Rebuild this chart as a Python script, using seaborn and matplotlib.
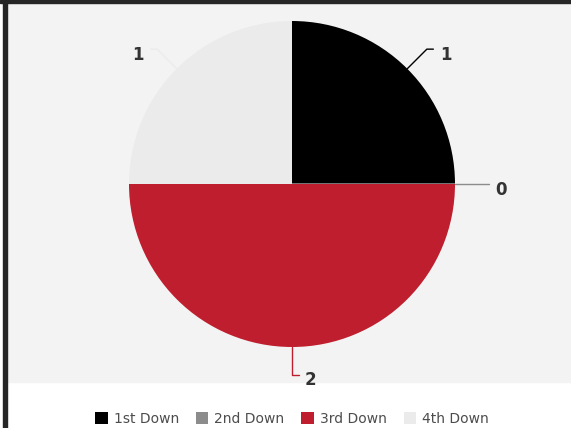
# Pie chart: plays by down

import numpy as np
import matplotlib
matplotlib.use("Agg")
import matplotlib.pyplot as plt
import seaborn as sns
from matplotlib.patches import Rectangle, Patch

# Data
categories = ['1st Down', '2nd Down', '3rd Down', '4th Down']
values = [1, 0, 2, 1]
colors = ['#000000', '#8c8c8c', '#be1e2d', '#ebebeb']

sns.set_theme(style='white')
plt.rcParams['font.family'] = ['DejaVu Sans']

W, H = 571, 428
fig = plt.figure(figsize=(W / 100, H / 100), dpi=100)
fig.patch.set_facecolor('white')

# Background panel and dark frame edges
fig.add_artist(Rectangle((7 / W, 1 - 382 / H), 1 - 7 / W, 379 / H,
                         transform=fig.transFigure, color='#f3f3f3', zorder=0))
fig.add_artist(Rectangle((3 / W, 0), 4 / W, 1, transform=fig.transFigure,
                         color='#262626', zorder=1))
fig.add_artist(Rectangle((0, 1 - 3 / H), 1, 3 / H, transform=fig.transFigure,
                         color='#262626', zorder=1))

# Pie axes (square, centred on the pie)
ax = fig.add_axes([129 / W, 1 - 347 / H, 326 / W, 326 / H])
wedges, _ = ax.pie(values, colors=colors, startangle=90, counterclock=False,
                   radius=1, wedgeprops=dict(linewidth=0))
for w, v, c in zip(wedges, values, colors):
    if v == 0:
        w.set_edgecolor(c)
        w.set_linewidth(1.2)
ax.set_xlim(-1, 1)
ax.set_ylim(-1, 1)
ax.axis('off')

# Data labels with connectors
for w, v, c in zip(wedges, values, colors):
    a = np.deg2rad((w.theta1 + w.theta2) / 2)
    x0, y0 = np.cos(a), np.sin(a)
    x1, y1 = 1.17 * x0, 1.17 * y0
    side = 1 if np.cos(a) > -0.01 else -1
    x2 = x1 + 0.04 * side
    ax.plot([x0, x1, x2], [y0, y1, y1], color=c, lw=1, clip_on=False)
    ax.text(x2 + 0.04 * side, y1 - 0.035, str(v), ha='left' if side > 0 else 'right',
            va='center', fontsize=12, fontweight='bold', color='#333333', clip_on=False)

# Legend
handles = [Patch(facecolor=c, edgecolor='none', label=l) for l, c in zip(categories, colors)]
fig.legend(handles=handles, loc='center', bbox_to_anchor=(292 / W, 1 - 419 / H), ncol=4,
           frameon=False, fontsize=10, handlelength=0.9, handleheight=0.9,
           handletextpad=0.45, columnspacing=1.2, labelcolor='#4d4d4d')

fig.savefig('out.png', dpi=100)
